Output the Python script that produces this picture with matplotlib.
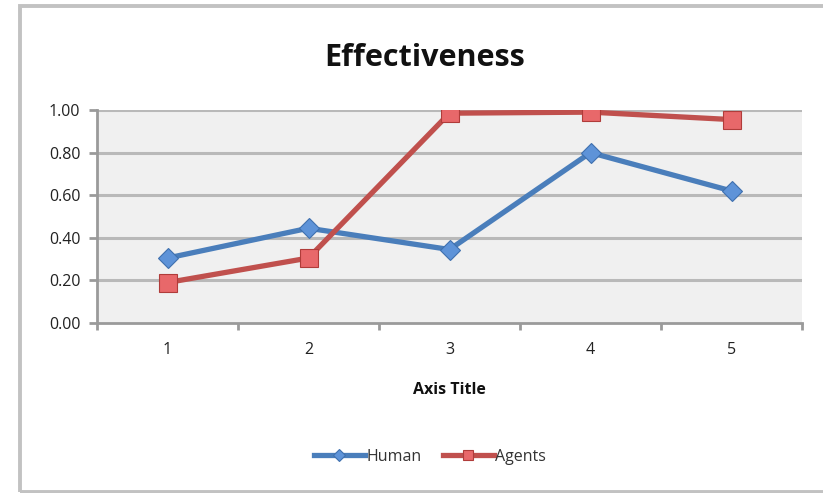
import matplotlib.pyplot as plt
from matplotlib.patches import Rectangle

plt.rcParams['font.family'] = ['Open Sans', 'DejaVu Sans']

runs = [1, 2, 3, 4, 5]
human = [0.305, 0.445, 0.345, 0.80, 0.62]
agents = [0.19, 0.305, 0.985, 0.99, 0.955]
yticks = [0.0, 0.2, 0.4, 0.6, 0.8, 1.0]

fig = plt.figure(figsize=(8.23, 4.93), dpi=100)
# chart frame, running off the right edge
fig.patches.append(Rectangle((20 / 823, 1 / 493), 1.1, 486 / 493, transform=fig.transFigure,
                             fill=False, edgecolor='#c2c2c2', linewidth=2.8))

ax = fig.add_axes([97 / 823, 170 / 493, 705 / 823, 213 / 493])
ax.set_facecolor('#f0f0f0')
ax.set_xlim(0.5, 5.5)
ax.set_ylim(0, 1.0)

for y in yticks[1:]:
    ax.axhline(y, color='#b9b9b9', linewidth=2.2, zorder=1)

ax.plot(runs, human, color='#4a7ebb', linewidth=3.8, marker='D', markersize=10,
        markerfacecolor='#5e93d8', markeredgecolor='#3f70ae', markeredgewidth=0.8,
        label='Human', zorder=3)
ax.plot(runs, agents, color='#c0504d', linewidth=3.8, marker='s', markersize=12.5,
        markerfacecolor='#e8686a', markeredgecolor='#b03c3a', markeredgewidth=0.8,
        label='Agents', zorder=3)

for side in ['top', 'right']:
    ax.spines[side].set_visible(False)
for side in ['left', 'bottom']:
    ax.spines[side].set_color('#9a9a9a')
    ax.spines[side].set_linewidth(2)

ax.set_yticks(yticks)
ax.set_yticklabels(['%.2f' % v for v in yticks], fontsize=11.5, color='#222222')
ax.set_xticks(runs)
ax.set_xticklabels([str(r) for r in runs], fontsize=11.5, color='#222222')
ax.set_xticks([0.5, 1.5, 2.5, 3.5, 4.5, 5.5], minor=True)
ax.tick_params(axis='x', which='major', length=0, pad=14)
ax.tick_params(axis='x', which='minor', length=5, width=2, color='#9a9a9a', direction='out')
ax.tick_params(axis='y', length=6, width=2, color='#9a9a9a', direction='out', pad=6)

ax.set_xlabel('Axis Title', fontsize=11.5, fontweight='bold', color='#111111', labelpad=17)
fig.text(425 / 823, 1 - 58 / 493, 'Effectiveness', ha='center', va='center',
         fontsize=22, fontweight='bold', color='#111111')

fig.legend(loc='center', bbox_to_anchor=(430 / 823, 1 - 457 / 493), ncol=2, frameon=False,
           fontsize=11.5, handlelength=3.2, handletextpad=0.1, columnspacing=1.3,
           markerscale=0.6, labelcolor='#333333')

fig.savefig('out.png', dpi=100)
